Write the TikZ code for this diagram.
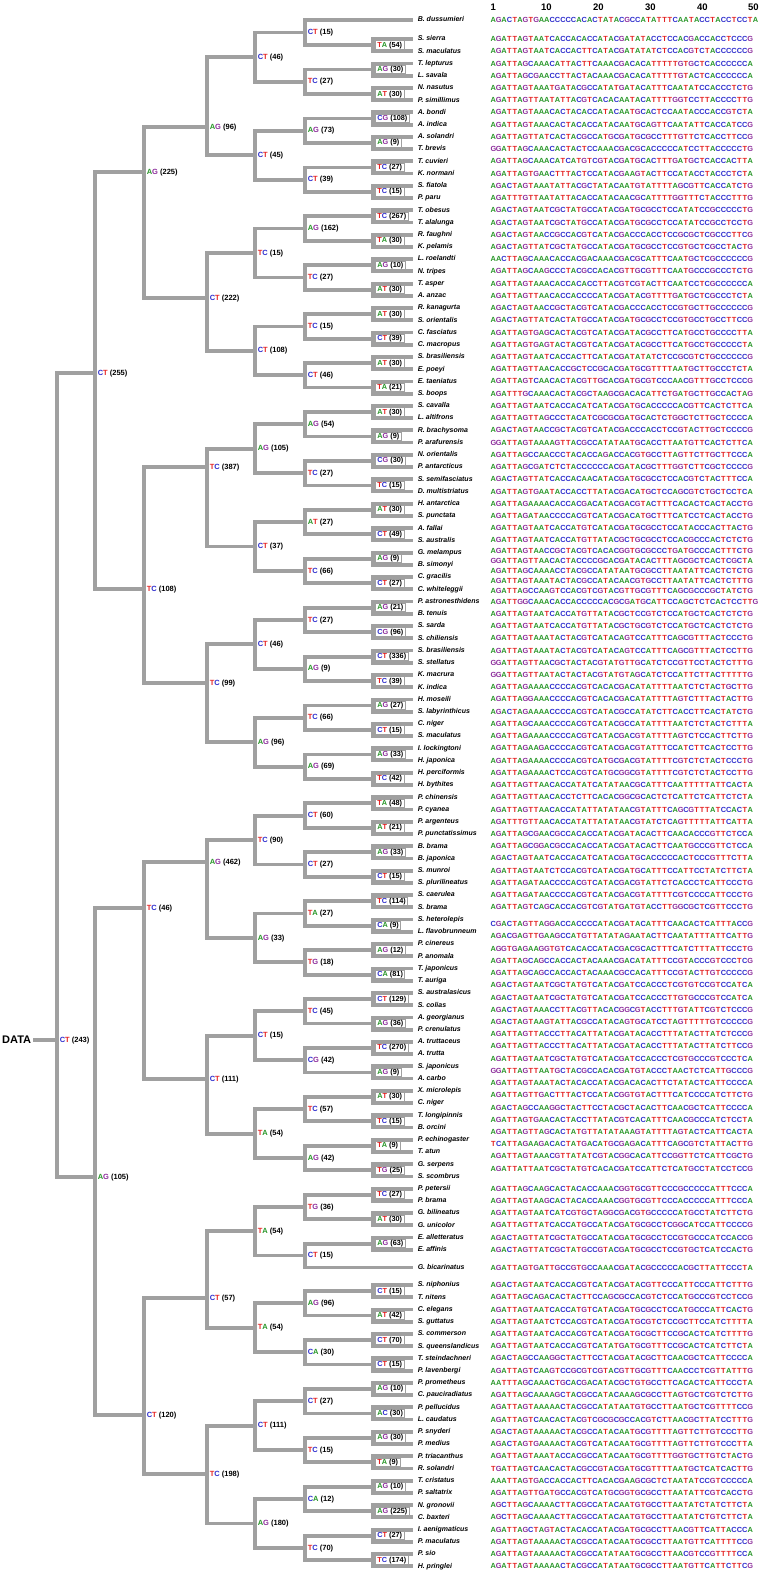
\documentclass[tikz,border=0pt]{standalone}
\usepackage{fontspec}
\setmainfont{Liberation Sans}
\usetikzlibrary{calc}

\definecolor{baseA}{RGB}{40,150,40}
\definecolor{baseC}{RGB}{45,45,205}
\definecolor{baseG}{RGB}{140,45,155}
\definecolor{baseT}{RGB}{228,35,35}
\definecolor{treegray}{RGB}{160,160,160}

\newcommand\nuc[1]{\textcolor{base#1}{#1}}
\newcommand\mutlab[3]{\nuc{#1}\nuc{#2} (#3)}
\newcommand\seqrow[1]{\seqrowloop#1\relax}
\def\seqrowloop#1{\ifx\relax#1\else\makebox[5.35pt]{\nuc{#1}}\expandafter\seqrowloop\fi}

\pgfmathdeclarefunction{leafy}{1}{\pgfmathparse{#1==1 ? 20 : (#1<102 ? 39+(#1-2)*12.23 : (#1==102 ? 1267.5 : 1285+(#1-103)*12.23))}}
\pgfmathdeclarefunction{seqy}{1}{\pgfmathparse{#1<44 ? leafy(#1) : (#1<49 ? leafy(43)+(#1-43)*10.2 : (#1<75 ? leafy(#1-1) : (#1<96 ? leafy(#1-1)+4.5 : leafy(#1))))}}

% level, x, index, y (empty = midway between the two children), bases, count
\newcommand\treejoin[7]{%
  \pgfmathtruncatemacro\ja{2*#3}%
  \pgfmathtruncatemacro\jb{2*#3+1}%
  \pgfmathtruncatemacro\ch{#1+1}%
  \if\relax\detokenize{#4}\relax
    \path let \p1=(n\ch-\ja), \p2=(n\ch-\jb) in coordinate (n#1-#3) at (#2pt,{(\y1+\y2)/2});
  \else
    \coordinate (n#1-#3) at (#2,#4);
  \fi
  \path (n#1-#3) edge (n\ch-\ja) edge (n\ch-\jb);
  \node[lab#1] (m#1-#3) at (n#1-#3) {\mutlab{#5}{#6}{#7}};}

\begin{document}
\begin{tikzpicture}[x=1pt, y=-1pt,
    mut/.style={anchor=west, inner sep=0pt, xshift=2.6pt, text height=5.6pt, text depth=1.4pt, font=\bfseries\fontsize{7.5}{8}\selectfont},
    mutbox/.style={anchor=west, xshift=1.9pt, draw=treegray, line width=1pt, fill=white, inner xsep=2pt, inner ysep=0pt, minimum height=8.4pt, text height=5.4pt, text depth=1.4pt, font=\bfseries\fontsize{7.3}{8}\selectfont},
    lab0/.style=mut, lab1/.style=mut, lab2/.style=mut, lab3/.style=mut, lab4/.style=mut, lab5/.style=mut, lab6/.style=mutbox]
\useasboundingbox (0,0) rectangle (764,1575);

\begin{scope}
    \tikzstyle{every node}=[anchor=west, inner xsep=4.6pt, inner ysep=0pt, text height=5.2pt, text depth=1.5pt, font=\bfseries\itshape\fontsize{7}{8}\selectfont]
    \foreach \nm [count=\i] in {B. dussumieri, S. sierra, S. maculatus, T. lepturus, L. savala, N. nasutus, P. simillimus, A. bondi, A. indica, A. solandri, T. brevis, T. cuvieri, K. normani, S. fiatola, P. paru, T. obesus, T. alalunga, R. faughni, K. pelamis, L. roelandti, N. tripes, T. asper, A. anzac, R. kanagurta, S. orientalis, C. fasciatus, C. macropus, S. brasiliensis, E. poeyi, E. taeniatus, S. boops, S. cavalla, L. altifrons, R. brachysoma, P. arafurensis, N. orientalis, P. antarcticus, S. semifasciatus, D. multistriatus, H. antarctica, S. punctata, A. fallai, S. australis, G. melampus, B. simonyi, C. gracilis, C. whiteleggii, P. astronesthidens, B. tenuis, S. sarda, S. chiliensis, S. brasiliensis, S. stellatus, K. macrura, K. indica, H. moseili, S. labyrinthicus, C. niger, S. maculatus, I. lockingtoni, H. japonica, H. perciformis, H. bythites, P. chinensis, P. cyanea, P. argenteus, P. punctatissimus, B. brama, B. japonica, S. munroi, S. plurilineatus, S. caerulea, S. brama, S. heterolepis, L. flavobrunneum, P. cinereus, P. anomala, T. japonicus, T. auriga, S. australasicus, S. colias, A. georgianus, P. crenulatus, A. truttaceus, A. trutta, S. japonicus, A. carbo, X. microlepis, C. niger, T. longipinnis, B. orcini, P. echinogaster, T. atun, G. serpens, S. scombrus, P. petersii, P. brama, G. bilineatus, G. unicolor, E. alletteratus, E. affinis, G. bicarinatus, S. niphonius, T. nitens, C. elegans, S. guttatus, S. commerson, S. queenslandicus, T. steindachneri, P. lavenbergi, P. prometheus, C. pauciradiatus, P. pellucidus, L. caudatus, P. snyderi, P. medius, P. triacanthus, R. solandri, T. cristatus, P. saltatrix, N. gronovii, C. baxteri, I. aenigmaticus, P. maculatus, P. sio, H. pringlei} {
        \pgfmathtruncatemacro\k{\i==1 ? 0 : (\i<103 ? \i : \i+1)}
        \coordinate (n7-\k) at (413,{leafy(\i)});
        \node (t\i) at (n7-\k) {\nm};
    }
\end{scope}

\begin{scope}
    \tikzstyle{every edge}=[draw=treegray, line width=3.8pt, to path={|- (\tikztotarget)}]
    \coordinate (n6-0) at (n7-0);
    \coordinate (n6-51) at (n7-102);
    \foreach \j/\ba/\bb/\num in {1/T/A/54, 2/A/G/30, 3/A/T/30, 4/C/G/108, 5/A/G/9, 6/T/C/27, 7/T/C/15, 8/T/C/267, 9/T/A/30, 10/A/G/10, 11/A/T/30, 12/A/T/30, 13/C/T/39, 14/A/T/30, 15/T/A/21, 16/A/T/30, 17/A/G/9, 18/C/G/30, 19/T/C/15, 20/A/T/30, 21/C/T/49, 22/A/G/9, 23/C/T/27, 24/A/G/21, 25/C/G/96, 26/C/T/336, 27/T/C/39, 28/A/G/27, 29/C/T/15, 30/A/G/33, 31/T/C/42, 32/T/A/48, 33/A/T/21, 34/A/G/33, 35/C/T/15, 36/T/C/114, 37/C/A/9, 38/A/G/12, 39/C/A/81, 40/C/T/129, 41/A/G/36, 42/T/C/270, 43/A/G/9, 44/A/T/30, 45/T/C/15, 46/T/A/9, 47/T/G/25, 48/T/C/27, 49/A/T/30, 50/A/G/63, 52/C/T/15, 53/A/T/42, 54/C/T/70, 55/C/T/15, 56/A/G/10, 57/A/C/30, 58/A/G/30, 59/T/A/9, 60/A/G/10, 61/A/G/225, 62/C/T/27, 63/T/C/174}
        {\treejoin{6}{373}{\j}{}{\ba}{\bb}{\num}}
    \foreach \j/\ba/\bb/\num in {0/C/T/15, 1/T/C/27, 2/A/G/73, 3/C/T/39, 4/A/G/162, 5/T/C/27, 6/T/C/15, 7/C/T/46, 8/A/G/54, 9/T/C/27, 10/A/T/27, 11/T/C/66, 12/T/C/27, 13/A/G/9, 14/T/C/66, 15/A/G/69, 16/C/T/60, 17/C/T/27, 18/T/A/27, 19/T/G/18, 20/T/C/45, 21/C/G/42, 22/T/C/57, 23/A/G/42, 24/T/G/36, 25/C/T/15, 26/A/G/96, 27/C/A/30, 28/C/T/27, 29/T/C/15, 30/C/A/12, 31/T/C/70}
        {\treejoin{5}{305}{\j}{}{\ba}{\bb}{\num}}
    \foreach \j/\ba/\bb/\num in {0/C/T/46, 1/C/T/45, 2/T/C/15, 3/C/T/108, 4/A/G/105, 5/C/T/37, 6/C/T/46, 7/A/G/96, 8/T/C/90, 9/A/G/33, 10/C/T/15, 11/T/A/54, 12/T/A/54, 13/T/A/54, 14/C/T/111, 15/A/G/180}
        {\treejoin{4}{255}{\j}{}{\ba}{\bb}{\num}}
    \foreach \j/\y/\ba/\bb/\num in {0/127/A/G/96, 1/298/C/T/222, 2/467/T/C/387, 3/683/T/C/99, 4/862/A/G/462, 5/1079/C/T/111, 6/1298/C/T/57, 7/1474/T/C/198}
        {\treejoin{3}{207}{\j}{\y}{\ba}{\bb}{\num}}
    \foreach \j/\y/\ba/\bb/\num in {0/172/A/G/225, 1/589/T/C/108, 2/908/T/C/46, 3/1415/C/T/120}
        {\treejoin{2}{144}{\j}{\y}{\ba}{\bb}{\num}}
    \foreach \j/\y/\ba/\bb/\num in {0/373/C/T/255, 1/1177/A/G/105}
        {\treejoin{1}{95}{\j}{\y}{\ba}{\bb}{\num}}
    \treejoin{0}{57}{0}{1040}{C}{T}{243}
    \node[anchor=west, inner xsep=2pt, font=\bfseries\fontsize{11}{12}\selectfont] (data) at (0,1040) {DATA};
    \path (data.east) edge (n0-0);
\end{scope}

\begin{scope}
    \tikzstyle{every node}=[anchor=west, inner sep=0pt, font=\bfseries\fontsize{9.5}{10}\selectfont]
    \foreach \hx/\hn in {490.5/1, 541/10, 593/20, 645/30, 697/40, 748/50}
        \node (h\hn) at (\hx,7) {\hn};
\end{scope}

\begin{scope}
    \tikzstyle{every node}=[anchor=west, inner sep=0pt, font=\bfseries\fontsize{7.4}{8}\selectfont]
    \foreach \s [count=\m] in {AGACTAGTGAACCCCCACACTATACGCCATATTTCAATACCTACCTCCTA, AGATTAGTAATCACCACACCATACGATATACCTCCACGACCACCTCCCG, AGATTAGTAATCACCACTTCATACGATATATCTCCACGTCTACCCCCCG, AGATTAGCAAACATTACTTCAAACGACACATTTTTGTGCTCACCCCCCA, AGATTAGCGAACCTTACTACAAACGACACATTTTTGTACTCACCCCCCA, AGATTAGTAAATGATACGCCATATGATACATTTCAATATCCACCCTCTG, AGATTAGTTAATATTACGTCACACAATACATTTTGGTCCTTACCCCTTG, AGATTAGTAAACACTACACCATACAATGCACTCCAATACCCACCGTCTA, AGATTAGTAAACACTACACCATACAATGCAGTTCAATATTCACCATCCG, AGATTAGTTATCACTACGCCATGCGATGCGCCTTTGTTCTCACCTTCCG, GGATTAGCAAACACTACTCCAAACGACGCACCCCCATCCTTACCCCCTG, AGATTAGCAAACATCATGTCGTACGATGCACTTTGATGCTCACCACTTA, AGATTAGTGAACTTTACTCCATACGAAGTACTTCCATACCTACCCTCTA, AGACTAGTAAATATTACGCTATACAATGTATTTTAGCGTTCACCATCTG, AGATTTGTTAATATTACACCATACAACGCATTTTGGTTTCTACCCTTTG, AGACTAGTAATCGCTATGCCATACGATGCGCCTCCATATCCGCCCCCTG, AGACTAGTAATCGCTATGCCATACGATGCGCCTCCATATCCGCCTCCTG, AGACTAGTAACCGCCACGTCATACGACCCACCTCCGCGCTCGCCCTTCG, AGACTAGTTATCGCTATGCCATACGATGCGCCTCCGTGCTCGCCTACTG, AACTTAGCAAACACCACGACAAACGACGCATTTCAATGCTCGCCCCCCG, AGATTAGCAAGCCCTACGCCACACGTTGCGTTTCAATGCCCGCCCTCTG, AGATTAGTAAACACCACACCTTACGTCGTACTTCAATCCTCGCCCCCCA, AGATTAGTTAACACCACCCCATACGATACGTTTTGATGCTCGCCCTCTA, AGACTAGTAACCGCTACGTCATACGACCCACCTCCGTGCTTGCCCCCCG, AGACTAGTTATCACTATGCCATACGATGCGCCTCCGTGCCTGCCTTCCG, AGATTAGTGAGCACTACGTCATACGATACGCCTTCATGCCTGCCCCTTA, AGATTAGTGAGTACTACGTCATACGATACGCCTTCATGCCTGCCCCCTA, AGATTAGTAATCACCACTTCATACGATATATCTCCGCGTCTGCCCCCCG, AGATTAGTTAACACCGCTCCGCACGATGCGTTTTAATGCTTGCCCTCTA, AGATTAGTCAACACTACGTTGCACGATGCGTCCCAACGTTTGCCTCCCG, AGATTTGCAAACACTACGCTAAGCGACACATTCTGATGCTTGCCACTAG, AGATTAGTAATCACCACATCATACGATGCACCCCCACGTTCACTCTTCA, AGATTAGTTAGCCCTACATCGCGCGATGCACTCTGGCTCTTGCTCCCCA, AGACTAGTAACCGCTACGTCATACGACCCACCTCCGTACTTGCTCCCCG, GGATTAGTAAAAGTTACGCCATATAATGCACCTTAATGTTCACTCTTCA, AGATTAGCCAACCCTACACCAGACCACGTGCCTTAGTTCTTGCTTCCCA, AGATTAGCGATCTCTACCCCCCACGATACGCTTTGGTCTTCGCTCCCCG, AGACTAGTTATCACCACAACATACGATGCGCCTCCACGTCTACTTTCCA, AGATTAGTGAATACCACCTTATACGACATGCTCCAGCGTCTGCTCCTCA, AGATTAGAAAACACCACGACATACGACGTACTTTCACACTCACTACCTG, AGATTAGATAACCCCACGTCATACGACATGCTTTCATCCTCACTACCTG, AGATTAGTAATCACCATGTCATACGATGCGCCTCCATACCCACTTACTG, AGATTAGTAATCACCATGTTATACGCTGCGCCTCCACGCCCACTCTCTG, AGATTAGTAACCGCTACGTCACACGGTGCGCCCTGATGCCCACTTTCTG, GGATTAGTTAACACTACCCCGCACGATACACTTTAGCGCTCACTCGCTA, AGATTAGCAAAACCTACGCCATATAATGCGCCTTAATATTCACTCTCTG, AGATTAGTAAATACTACGCCATACAACGTGCCTTAATATTCACTCTTTG, AGATTAGCCAAGTCCACGTCGTACGTTGCGTTTCAGCGCCCGCTATCTG, AGATTGGCAAACACCACCCCCACGCGATGCATTCCAGCTCTCACTCCTTG, AGATTAGTAATCACCATGTTATACGCTCCGTCTCCATGCTCACTCTCTG, AGATTAGTAATCACCATGTTATACGCTGCGTCTCCATGCTCACTCTCTG, AGATTAGTAAATACTACGTCATACAGTCCATTTCAGCGTTTACTCCCTG, AGATTAGTAAATACTACGTCATACAGTCCATTTCAGCGTTTACTCCTTG, GGATTAGTTAACGCTACTACGTATGTTGCATCTCCGTTCCTACTCTTTG, GGATTAGTTAATACTACTACGTATGTAGCATCTCCATTCTTACTTTTTG, AGATTAGAAAACCCCACGTCACACGACATATTTTAATCTCTACTGCTTG, AGATTAGGAAACCCCACGTCACACGACATATTTTAGTCTTTACTACTTG, AGACTAGAAAACCCCACGTCATACGCCATATCTTCACCTTCACTATCTG, AGATTAGCAAACCCCACGTCATACGCCATATTTTAATCTCTACTCTTTA, AGATTAGAAAACCCCACGTCATACGACGTATTTTAGTCTCCACTTCTTG, AGATTAGAAGACCCCACGTCATACGACGTATTTCCATCTTCACTCCTTG, AGATTAGAAAACCCCACGTCATGCGACGTATTTTCGTCTCTACTCCCTG, AGATTAGAAAACTCCACGTCATGCGGCGTATTTTCGTCTCTACTCCTTG, AGATTAGTTAACACCATATCATATAACGCATTTCAATTTTTATTCACTA, AGATTAGTTAACACCTCTTCACACGGCGCACTCTCATTCTCATTCTCTA, AGATTAGTTAACACCATATTATATAACGTATTTCAGCGTTTATCCACTA, AGATTTGTTAACACCATATTATATAACGTATCTCAGTTTTTATTCATTA, AGATTAGCGAACGCCACACCATACGATACACTTCAACACCCGTTCTCCA, AGATTAGCGGACGCCACACCATACGATACACTTCAATGCCCGTTCTCCA, AGACTAGTAATCACCACATCATACGATGCACCCCCACTCCCGTTTCTTA, AGATTAGTAATCTCCACGTCATACGATGCATTTCCATTCCTATCTTCTA, AGATTAGATAACCCCACGTCATACGACGTATTCTCACCCTCATTCCCTG, AGATTAGATAACCCCACGTCATACGACGTATTTTCGTCCCCATTCCCTG, AGATTAGTCAGCACCACGTCGTATGATGTACCTTGGCGCTCGTTCCCTG, CGACTAGTTAGGACCACCCCATACGATACATTTCAACACTCATTTACCG, AGACGAGTTGAAGCCATGTTATATAGAATACTTCAATATTTATTCATTG, AGGTGAGAAGGTGTCACACCATACGACGCACTTTCATCTTTATTCCCTG, AGATTAGCAGCCACCACTACAAACGACATATTTCCGTACCCGTCCCTCG, AGATTAGCAGCCACCACTACAAACGCCACATTTCCGTACTTGTCCCCCG, AGACTAGTAATCGCTATGTCATACGATCCACCCTCGTGTCCGTCCATCA, AGACTAGTAATCGCTATGTCATACGATCCACCCTTGTGCCCGTCCATCA, AGACTAGTAAACCTTACGTTACACGGCGTACCTTTGTATTCGTCTCCCG, AGACTAGTAAGTATTACGCCATACAGTGCATCCTAGTTTTTGTCCCCCG, AGATTAGTTACCCTTACATTATACGATACACCTTTATACTTATCTCCCG, AGATTAGTTACCCTTACATTATACGATACACCTTTATACTTATCTTCCG, AGATTAGTAATCGCTATGTCATACGATCCACCCTCGTGCCCGTCCCTCA, GGATTAGTTAATGCTACGCCACACGATGTACCCTAACTCTCATTGCCCG, AGATTAGTAAATACTACACCATACGACACACTTCTATACTCATTCCCCA, AGATTAGTTGACTTTACTCCATACGGTGTACTTTCATCCCCATCTTCTG, AGACTAGCCAAGGCTACTTCCTACGCTACACTTCAACGCTCATTCCCCA, AGATTAGTGAACACTACCTTATACGTCACATTTCAACGCCCATCTCCTA, AGATTAGTTAGCACTATGTTATATAAAGTATTTTAGTACTCATTCACTA, TCATTAGAAGACACTATGACATGCGAGACATTTCAGCGTCTATTACTTG, AGATTAGTAAACGTTATATCGTACGGCACATTCCGGTTCTCATTCGCTG, AGATTATTAATCGCTATGTCACACGATCCATTCTCATGCCTATCCTCCG, AGATTAGCAAGCACTACACCAAACGGTGCGTTCCCGCCCCCATTTCCCA, AGATTAGTAAGCACTACACCAAACGGTGCGTTCCCACCCCCATTTCCCA, AGATTAGTAATCATCGTGCTAGGCGACGTGCCCCCATGCCTATCTTCTG, AGATTAGTTATCACCATGCCATACGATGCGCCTCGGCATCCATTCCCCG, AGACTAGTTATCGCTATGCCATACGATGCGCCTCCGTGCCCATCCACCG, AGACTAGTTATCGCTATGCCGTACGATGCGCCTCCGTGCTCATCCACTG, AGATTAGTGATTGCCGTGCCAAACGATACGCCCCCACGCTTATTCCCTA, AGACTAGTAATCACCACGTCATACGATACGTTCCCATTCCCATTCTTTG, AGATTAGCAGACACTACTTCCAGCGCCACGTCTCCATGCCCGTCCTCCG, AGATTAGTAATCACCATGTCATACGATGCGCCTCCATGCCCATTCACTG, AGATTAGTAATCTCCACGTCATACGATGCGTCTCCGCTTCCATCTTTTA, AGATTAGTAATCACCACGTCATACGATGCGCTTCCGCACTCATCTTTTG, AGATTAGTAATCACCACGTCATATGATGCGTTTCCGCACTCATCTTCTA, AGACTAGCCAAGGCTACTTCCTACGATACGCTTCAACGCTCATTCCCCA, AGATTAGTCAAGTCCGCGTCGTACGTTGCGTTTCAACCCTCGTTATTTG, AATTTAGCAAACTGCACGACATACGCTGTGCCTTCACACTCATTCCCTA, AGATTAGCAAAAGCTACGCCATACAAAGCGCCTTAGTGCTCGTCTCTTG, AGATTAGTAAAAACTACGCCATATAATGTGCCTTAATGCTCGTTTTCCG, AGATTAGTCAACACTACGTCGCGCGCCACGTCTTAACGCTTATCCTTTG, AGACTAGTAAAAACTACGCCATACAATGCGTTTTAGTTCTTGTCCCTTG, AGACTAGTGAAAACTACGTCATACAATGCGTTTTAGTTCTTGTCCCTTA, AGATTAGTAAATACCACGCCATACAATGCGTTTTGGTGCTTGTCTACTG, TGATTAGTCAACACTACGCCGTACGATGCGTTTTAATGCTCATCACTTG, AAATTAGTGACCACCACTTCACACGAAGCGCTCTAATATCCGTCCCCCA, AGATTAGTTGATGCCACGTCATGCGGTGCGCCTTAATATTCGTCACCTG, AGCTTAGCAAAACTTACGCCATACAATGTGCCTTAATATCTATCTTCTA, AGCTTAGCAAAACTTACGCCATACAATGTGCCTTAATATCTGTCTTCTA, AGATTAGCTAGTACTACACCATACGATGCGCCTTAACGTTCATTACCCA, AGATTAGTAAAAACTACGCCATACAATGCGCCTTAATGTTCATTTTCCG, AGATTAGTAAAAACTACGCCATATAATGCGCCTTAACGTCCGTTTTCCA, AGATTAGTAAAAACTACGCCATATAATGCGCCTTAATGTTCATTCTTCG}
        \node (s\m) at (490.5,{seqy(\m)}) {\expandafter\seqrow\expandafter{\s}};
\end{scope}
\end{tikzpicture}
\end{document}
